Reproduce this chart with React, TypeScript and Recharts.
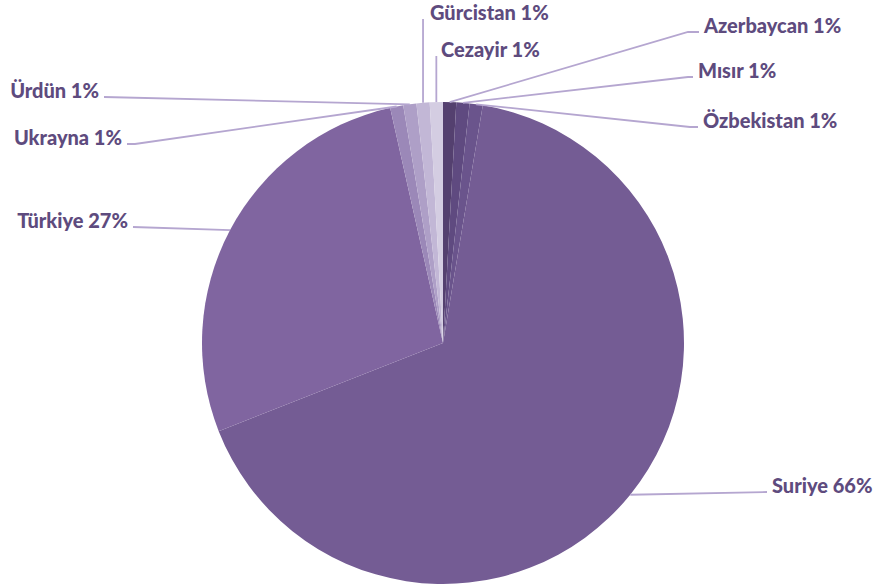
import React from "react";
import { PieChart, Pie, Cell } from "recharts";

// Ülkelere göre dağılım (saat 12'den saat yönünde)
const COUNTRIES = [
  "Azerbaycan",
  "Mısır",
  "Özbekistan",
  "Suriye",
  "Türkiye",
  "Ukrayna",
  "Ürdün",
  "Gürcistan",
  "Cezayir",
];
const SHARES = [0.88, 0.88, 0.88, 66.4, 27.44, 0.88, 0.88, 0.88, 0.88];

const COLORS = [
  "#54406f",
  "#5f4a80",
  "#6a548c",
  "#745c94",
  "#8065a0",
  "#9b88b8",
  "#ae9fc7",
  "#c2b7d6",
  "#d4cde2",
];

// Etiket yerleşimi (Excel'deki elle taşınmış etiketler gibi)
const LABEL_LAYOUT = [
  { side: "right", tx: 704, ty: 33, ex: 688 },
  { side: "right", tx: 698, ty: 78, ex: 688 },
  { side: "right", tx: 703, ty: 128, ex: 690 },
  { side: "right", tx: 772, ty: 493, ex: 767 },
  { side: "left", tx: 128, ty: 228, ex: 133 },
  { side: "left", tx: 122, ty: 145, ex: 135 },
  { side: "left", tx: 99, ty: 98, ex: 104 },
  { side: "top", tx: 430, ty: 20, ex: 0 },
  { side: "top", tx: 441, ty: 57, ex: 0 },
];

const data = COUNTRIES.map((name, i) => ({ name, value: SHARES[i] }));

const RADIAN = Math.PI / 180;
const TEXT_COLOR = "#5e4b7e";
const LINE_COLOR = "#b5a6d0";

const renderLabel = (props: any) => {
  const { cx, cy, midAngle, outerRadius, index, name, percent } = props;
  const lay = LABEL_LAYOUT[index];
  const ax = cx + outerRadius * Math.cos(-midAngle * RADIAN);
  const ay = cy + outerRadius * Math.sin(-midAngle * RADIAN);
  const ly = lay.ty - 1;
  let path = "";
  if (lay.side === "top") {
    path = `M${ax},${ay} L${ax},${ly}`;
  } else if (lay.side === "right") {
    path = `M${ax},${ay} L${lay.ex},${ly} L${lay.tx - 5},${ly}`;
  } else {
    path = `M${ax},${ay} L${lay.ex},${ly} L${lay.tx + 5},${ly}`;
  }
  return (
    <g key={`lbl-${index}`}>
      <path d={path} stroke={LINE_COLOR} strokeWidth={1.8} fill="none" />
      <text
        x={lay.tx}
        y={lay.ty}
        textAnchor={lay.side === "left" ? "end" : "start"}
        fill={TEXT_COLOR}
        fontFamily="Lato, 'Open Sans', sans-serif"
        fontWeight={900}
        fontSize={20}
      >
        {`${name} ${Math.round(percent * 100)}%`}
      </text>
    </g>
  );
};

export default function App() {
  return (
    <div style={{ position: "absolute", left: 0, top: 0, background: "#fff" }}>
      <PieChart
        width={877}
        height={586}
        margin={{ top: 0, right: 0, bottom: 0, left: 0 }}
      >
        <Pie
          data={data}
          dataKey="value"
          nameKey="name"
          cx={443}
          cy={343}
          outerRadius={241}
          startAngle={90}
          endAngle={-270}
          stroke="none"
          label={renderLabel}
          labelLine={false}
          isAnimationActive={false}
        >
          {data.map((_, i) => (
            <Cell key={`cell-${i}`} fill={COLORS[i]} />
          ))}
        </Pie>
      </PieChart>
    </div>
  );
}
